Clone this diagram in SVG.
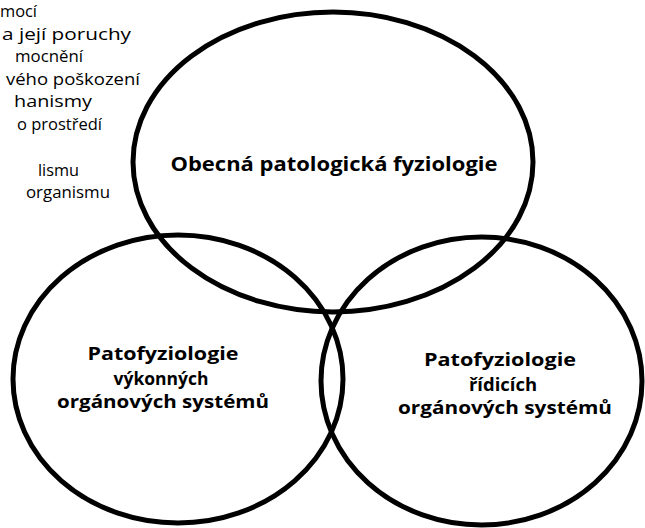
<svg xmlns="http://www.w3.org/2000/svg" width="645" height="528" viewBox="0 0 645 528">
<style>
.c{fill:none;stroke:#000;stroke-width:5}
.b{font-family:"Open Sans","Noto Sans",sans-serif;font-weight:bold;font-size:19px;fill:#000;text-anchor:middle}
.s{font-size:18px}
.t{font-family:"Open Sans","Noto Sans",sans-serif;font-size:17px;fill:#000}
</style>
<rect width="645" height="528" fill="#fff"/>
<g id="sidetext" class="t">
<text x="0" y="17" textLength="37" lengthAdjust="spacingAndGlyphs">mocí</text>
<text x="2" y="40" textLength="129" lengthAdjust="spacingAndGlyphs">a její poruchy</text>
<text x="15" y="62" textLength="68" lengthAdjust="spacingAndGlyphs">mocnění</text>
<text x="6" y="85" textLength="134" lengthAdjust="spacingAndGlyphs">vého poškození</text>
<text x="14" y="107" textLength="78" lengthAdjust="spacingAndGlyphs">hanismy</text>
<text x="17" y="130" textLength="85" lengthAdjust="spacingAndGlyphs">o prostředí</text>
<text x="38" y="176" textLength="41" lengthAdjust="spacingAndGlyphs">lismu</text>
<text x="26" y="198" textLength="84" lengthAdjust="spacingAndGlyphs">organismu</text>
</g>
<g id="general">
<ellipse class="c" cx="333" cy="162" rx="200" ry="150"/>
<text class="b" x="334" y="171" textLength="327" lengthAdjust="spacingAndGlyphs">Obecná patologická fyziologie</text>
</g>
<g id="executive">
<ellipse class="c" cx="178" cy="379" rx="165" ry="144"/>
<text class="b s" x="163" y="360" textLength="151" lengthAdjust="spacingAndGlyphs">Patofyziologie</text>
<text class="b s" x="161" y="385" textLength="95" lengthAdjust="spacingAndGlyphs">výkonných</text>
<text class="b s" x="163" y="408" textLength="212" lengthAdjust="spacingAndGlyphs">orgánových systémů</text>
</g>
<g id="control">
<ellipse class="c" cx="481.5" cy="381" rx="160.5" ry="144"/>
<text class="b s" x="500" y="366" textLength="152" lengthAdjust="spacingAndGlyphs">Patofyziologie</text>
<text class="b s" x="503" y="391" textLength="68" lengthAdjust="spacingAndGlyphs">řídicích</text>
<text class="b s" x="505" y="414" textLength="214" lengthAdjust="spacingAndGlyphs">orgánových systémů</text>
</g>
<g id="connectors"></g>
</svg>
